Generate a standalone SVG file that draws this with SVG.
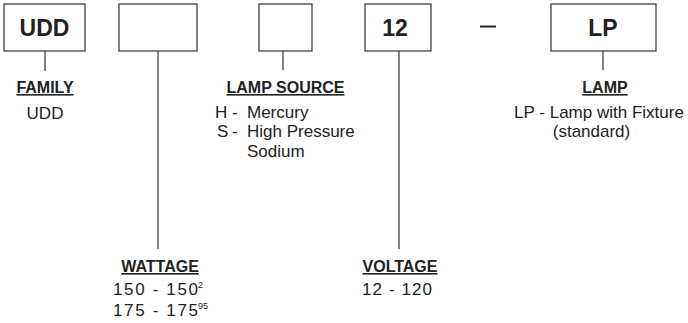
<svg xmlns="http://www.w3.org/2000/svg" width="688" height="323" viewBox="0 0 688 323">
<style>
.box{fill:#fff;stroke:#333;stroke-width:1.2}
.big{font-family:"Liberation Sans",Arial,sans-serif;font-weight:bold;font-size:23px;fill:#222;text-anchor:middle}
.hd{font-family:"Liberation Sans",Arial,sans-serif;font-weight:bold;font-size:16px;fill:#222;text-decoration:underline}
.tx{font-family:"Liberation Sans",Arial,sans-serif;font-size:17px;fill:#222}
.sup{font-family:"Liberation Sans",Arial,sans-serif;font-size:9px;fill:#222}
.c{text-anchor:middle}
.ln{stroke:#333;stroke-width:1.2;fill:none}
</style>
<rect width="688" height="323" fill="#fff"/>
<g id="connectors">
<line class="ln" x1="45" y1="51" x2="45" y2="71"/>
<line class="ln" x1="158" y1="51" x2="158" y2="249"/>
<line class="ln" x1="283" y1="51" x2="283" y2="70"/>
<line class="ln" x1="399" y1="51" x2="399" y2="249"/>
<line class="ln" x1="603" y1="51" x2="603" y2="70"/>
</g>
<g id="node-family">
<rect class="box" x="4" y="4" width="81" height="47"/>
<text class="big" x="44.5" y="36">UDD</text>
<text class="hd c" x="45" y="93">FAMILY</text>
<text class="tx c" x="45" y="119">UDD</text>
</g>
<g id="node-wattage">
<rect class="box" x="119" y="4" width="78" height="47"/>
<text class="hd c" x="160" y="272">WATTAGE</text>
<text class="tx" x="113" y="295" textLength="85" lengthAdjust="spacing">150 - 150</text><text class="sup" x="198" y="288">2</text>
<text class="tx" x="113" y="316" textLength="85" lengthAdjust="spacing">175 - 175</text><text class="sup" x="198" y="309">95</text>
</g>
<g id="node-lamp-source">
<rect class="box" x="259" y="4" width="53" height="47"/>
<text class="hd c" x="285.5" y="93">LAMP SOURCE</text>
<text class="tx" y="118"><tspan x="215">H</tspan><tspan x="232">-</tspan><tspan x="247">Mercury</tspan></text>
<text class="tx" y="137"><tspan x="217">S</tspan><tspan x="232">-</tspan><tspan x="247">High Pressure</tspan></text>
<text class="tx" x="247" y="157">Sodium</text>
</g>
<g id="node-voltage">
<rect class="box" x="365" y="4" width="66" height="47"/>
<text class="big" x="395" y="36">12</text>
<text class="hd c" x="400" y="272">VOLTAGE</text>
<text class="tx" x="362" y="295" textLength="70" lengthAdjust="spacing">12 - 120</text>
</g>
<g id="dash">
<line x1="480" y1="26.5" x2="496" y2="26.5" stroke="#222" stroke-width="2"/>
</g>
<g id="node-lamp">
<rect class="box" x="551" y="4" width="105" height="47"/>
<text class="big" x="603" y="36">LP</text>
<text class="hd c" x="605" y="93">LAMP</text>
<text class="tx c" x="599" y="118">LP - Lamp with Fixture</text>
<text class="tx c" x="591.5" y="137">(standard)</text>
</g>
</svg>
